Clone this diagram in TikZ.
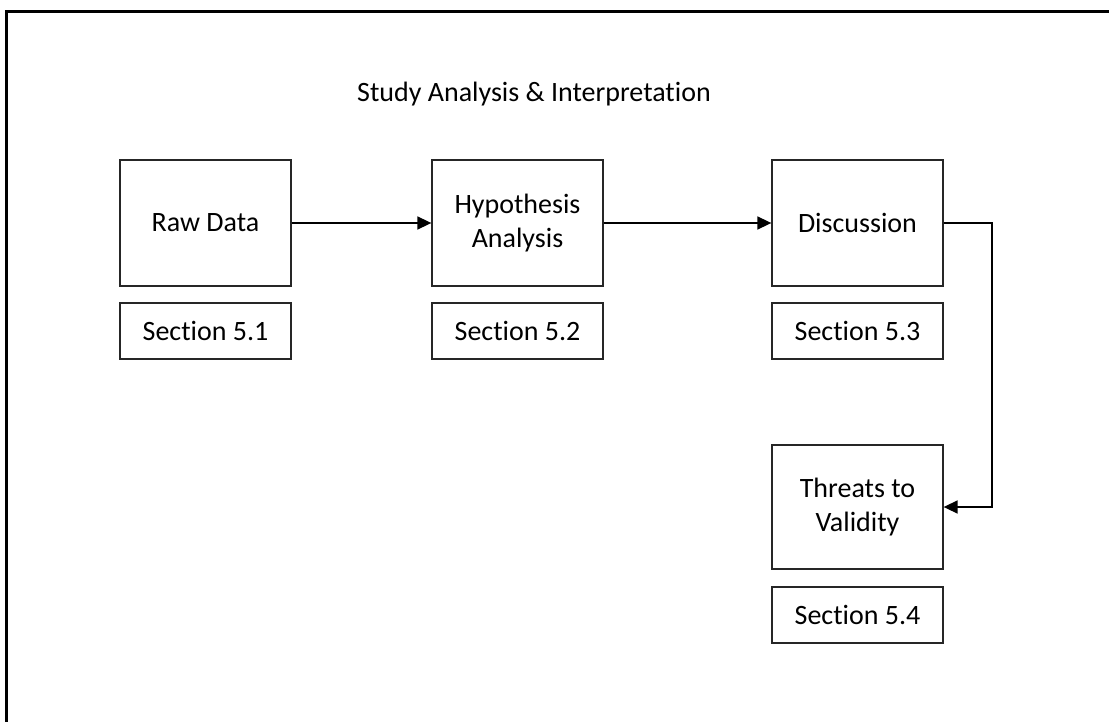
\documentclass[tikz,border=0pt]{standalone}
\usepackage{fontspec}
\setmainfont{Carlito}[Ligatures={NoCommon}]
\usetikzlibrary{arrows.meta}
\begin{document}
\begin{tikzpicture}[x=1pt,y=-1pt,
  every node/.style={font=\fontsize{28}{34}\selectfont, text=black},
  stagebox/.style={draw=black!85, line width=1.3pt, minimum width=171pt, minimum height=126pt, align=center, inner sep=0pt},
  secbox/.style={draw=black!85, line width=1.3pt, minimum width=171pt, minimum height=56pt, inner sep=0pt},
  flow/.style={line width=1.6pt, -{Triangle[length=14pt,width=13pt]}}
]
\useasboundingbox (0,0) rectangle (1109,722);
% outer frame (only left and top edges fall inside the page)
\draw[line width=2.2pt] (6.5,740) -- (6.5,11.5) -- (1120,11.5);

\node (title) at (534,94) {Study Analysis \& Interpretation};

\node[stagebox] (raw)  at (205.5,223) {Raw Data};
\node[stagebox] (hyp)  at (517.5,223) {Hypothesis\\Analysis};
\node[stagebox] (disc) at (857.5,223) {Discussion};
\node[stagebox, minimum height=124pt] (thr) at (857.5,507) {Threats to\\Validity};

\node[secbox] (s1) at (205.5,331) {Section 5.1};
\node[secbox] (s2) at (517.5,331) {Section 5.2};
\node[secbox] (s3) at (857.5,331) {Section 5.3};
\node[secbox] (s4) at (857.5,615) {Section 5.4};

\coordinate (bendA) at (992,223);
\coordinate (bendB) at (992,507);

\draw[flow] (raw) -- (hyp);
\draw[flow] (hyp) -- (disc);
\draw[flow] (disc.east) -- (bendA) -- (bendB) -- (thr.east);
\end{tikzpicture}
\end{document}
